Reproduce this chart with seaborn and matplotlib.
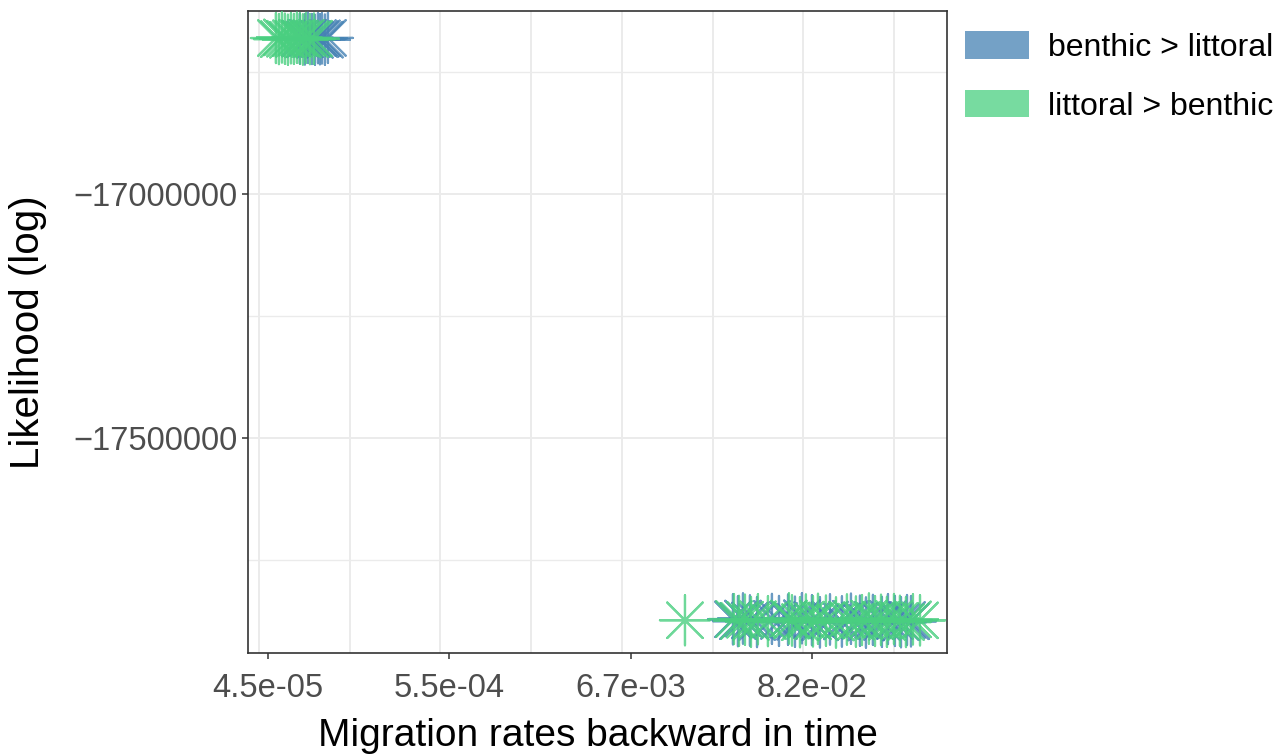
import matplotlib
matplotlib.use("Agg")
import matplotlib.pyplot as plt
from matplotlib.patches import Patch
from matplotlib.ticker import FixedLocator, FixedFormatter, NullFormatter
import seaborn as sns
import pandas as pd

# ---------------- data ----------------
groups = ["benthic > littoral", "littoral > benthic"]

blue_top_rate = [7.05e-05, 7.557e-05, 7.877e-05, 8.323e-05, 8.674e-05,
                 9.043e-05, 9.293e-05, 9.552e-05, 9.953e-05, 1.0374e-04]
blue_top_lik = [-16681500, -16683200, -16679800, -16682400, -16684100,
                -16680600, -16682900, -16681100, -16683700, -16680200]

green_top_rate = [5.068e-05, 5.283e-05, 5.507e-05, 5.737e-05, 5.980e-05,
                  6.233e-05, 6.495e-05, 6.769e-05, 7.055e-05, 7.352e-05,
                  7.660e-05, 8.097e-05, 8.558e-05]
green_top_lik = [-16680400, -16682600, -16679100, -16681800, -16683900,
                 -16680900, -16682200, -16679600, -16681300, -16683400,
                 -16680100, -16682700, -16681600]

blue_bot_rate = [0.02746, 0.02942, 0.03152, 0.03470, 0.03824, 0.04698,
                 0.05176, 0.05862, 0.06451, 0.07100, 0.08152, 0.09101,
                 0.1045, 0.1232, 0.1395, 0.1579, 0.1715, 0.1888, 0.2137,
                 0.2322, 0.2556, 0.2778, 0.3018, 0.3189]
blue_bot_lik = [-17871500, -17875300, -17869800, -17873900, -17877200,
                -17870600, -17874800, -17872100, -17876400, -17869300,
                -17873200, -17877800, -17871800, -17875900, -17870200,
                -17874300, -17878100, -17872600, -17876800, -17871000,
                -17874900, -17877500, -17872900, -17875600]

green_bot_rate = [0.01418, 0.02784, 0.02984, 0.03239, 0.03519, 0.03873,
                  0.04447, 0.05937, 0.06192, 0.06912, 0.07502, 0.08266,
                  0.08857, 0.09886, 0.1135, 0.1320, 0.1494, 0.1623,
                  0.1787, 0.1942, 0.2110, 0.2290, 0.2523, 0.2739,
                  0.2976, 0.3276, 0.3610]
green_bot_lik = [-17873400, -17870900, -17874600, -17872300, -17876900,
                 -17871400, -17875200, -17869700, -17873800, -17877400,
                 -17872000, -17875700, -17870400, -17874200, -17878000,
                 -17871900, -17876100, -17873000, -17869900, -17875000,
                 -17872400, -17876600, -17870800, -17874500, -17877100,
                 -17871600, -17873600]

x_tick_values = [4.54e-05, 5.53e-04, 6.74e-03, 8.21e-02]
x_tick_labels = ["4.5e-05", "5.5e-04", "6.7e-03", "8.2e-02"]
x_grid_values = [4.011e-05, 1.400e-04, 4.886e-04, 1.7054e-03,
                 5.952e-03, 2.0775e-02, 7.251e-02, 0.2531]
x_limits = [3.45e-05, 0.5236]

y_tick_values = [-17000000, -17500000]
y_tick_labels = ["\u221217000000", "\u221217500000"]
y_minor_values = [-16750000, -17250000, -17750000]
y_limits = [-17940500, -16625000]

x_title = "Migration rates backward in time"
y_title = "Likelihood (log)"

palette = {"benthic > littoral": "#4682B4", "littoral > benthic": "#4ACF80"}

# ---------------- table ----------------
df = pd.concat([
    pd.DataFrame({"rate": blue_top_rate + blue_bot_rate,
                  "lik": blue_top_lik + blue_bot_lik,
                  "direction": groups[0]}),
    pd.DataFrame({"rate": green_top_rate + green_bot_rate,
                  "lik": green_top_lik + green_bot_lik,
                  "direction": groups[1]}),
], ignore_index=True)

# ---------------- plot ----------------
sns.set_theme(style="white")
plt.rcParams["font.family"] = ["Liberation Sans", "DejaVu Sans"]

fig = plt.figure(figsize=(12.84, 7.56), dpi=100)
ax = fig.add_axes([248 / 1284, 1 - 653 / 756, 699 / 1284, 642 / 756])

sns.scatterplot(data=df, x="rate", y="lik", hue="direction",
                palette=palette, marker=(8, 2, 0), s=1300,
                linewidth=1.6, alpha=0.8, legend=False, ax=ax, zorder=3)

ax.set_xscale("log")
ax.set_xlim(*x_limits)
ax.set_ylim(*y_limits)

ax.xaxis.set_major_locator(FixedLocator(x_tick_values))
ax.xaxis.set_major_formatter(FixedFormatter(x_tick_labels))
ax.xaxis.set_minor_locator(FixedLocator(x_grid_values))
ax.xaxis.set_minor_formatter(NullFormatter())
ax.yaxis.set_major_locator(FixedLocator(y_tick_values))
ax.yaxis.set_major_formatter(FixedFormatter(y_tick_labels))
ax.yaxis.set_minor_locator(FixedLocator(y_minor_values))
ax.yaxis.set_minor_formatter(NullFormatter())

ax.grid(False)
ax.xaxis.grid(True, which="minor", color="#ebebeb", linewidth=1.4, zorder=0)
ax.yaxis.grid(True, which="major", color="#ebebeb", linewidth=1.4, zorder=0)
ax.yaxis.grid(True, which="minor", color="#ebebeb", linewidth=1.0, zorder=0)
ax.set_axisbelow(True)

ax.tick_params(axis="both", which="major", length=4.5, width=1.1,
               color="#333333", labelcolor="#4d4d4d", labelsize=23.5,
               direction="out")
ax.tick_params(axis="x", which="major", pad=10)
ax.tick_params(axis="y", which="major", pad=3)
ax.tick_params(axis="both", which="minor", length=0)
ax.tick_params(axis="x", which="major", bottom=True)
ax.tick_params(axis="y", which="major", left=True)

for sp in ax.spines.values():
    sp.set_color("#333333")
    sp.set_linewidth(1.2)
    sp.set_visible(True)

ax.set_xlabel(x_title, fontsize=28, color="black")
ax.set_ylabel(y_title, fontsize=29, color="black")
ax.xaxis.set_label_coords(0.5, (653 - 736) / 642)
ax.xaxis.label.set_va("center")
ax.yaxis.set_label_coords((28 - 248) / 699, 0.5)
ax.yaxis.label.set_va("center")

handles = [Patch(facecolor=palette[g], alpha=0.75, edgecolor="none", label=g)
           for g in groups]
fig.legend(handles=handles, loc="upper left",
           bbox_to_anchor=(965 / 1284, 1 - 31 / 756), frameon=False,
           fontsize=23, handlelength=2.0, handleheight=0.95,
           handletextpad=0.6, labelspacing=0.85, borderpad=0,
           borderaxespad=0, labelcolor="black")

fig.savefig("out.png", dpi=100)
